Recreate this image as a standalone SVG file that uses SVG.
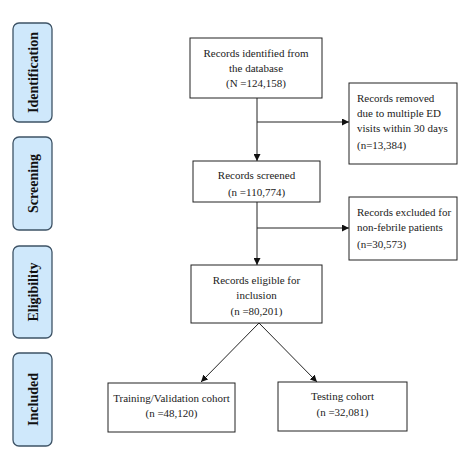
<svg xmlns="http://www.w3.org/2000/svg" width="460" height="452" viewBox="0 0 460 452">
<defs>
<style>
.stage rect{fill:#cfe8fb;stroke:#3e5366;stroke-width:1.3}
.stage text{font-family:"Liberation Serif",serif;font-weight:bold;font-size:14px;fill:#111;text-anchor:middle}
.box{fill:#fff;stroke:#222;stroke-width:1}
.t{font-family:"Liberation Serif",serif;font-size:11px;fill:#222}
.c{text-anchor:middle}
.conn{stroke:#222;stroke-width:1;fill:none}
</style>
<marker id="ah" viewBox="0 0 10 10" refX="10" refY="5" markerWidth="7" markerHeight="7" orient="auto" markerUnits="userSpaceOnUse">
<path d="M0,0 L10,5 L0,10 z" fill="#111"/>
</marker>
</defs>
<rect width="460" height="452" fill="#fff"/>

<g id="stage-identification" class="stage">
<rect x="13" y="23" width="39" height="99" rx="6"/>
<text transform="translate(37.5,72.5) rotate(-90)">Identification</text>
</g>
<g id="stage-screening" class="stage">
<rect x="13" y="137" width="39" height="93" rx="6"/>
<text transform="translate(37.5,183.5) rotate(-90)">Screening</text>
</g>
<g id="stage-eligibility" class="stage">
<rect x="13" y="246" width="39" height="92" rx="6"/>
<text transform="translate(37.5,292) rotate(-90)">Eligibility</text>
</g>
<g id="stage-included" class="stage">
<rect x="13" y="353" width="39" height="93" rx="6"/>
<text transform="translate(37.5,399.5) rotate(-90)">Included</text>
</g>

<g id="connectors">
<line class="conn" x1="257" y1="98" x2="257" y2="161" marker-end="url(#ah)"/>
<line class="conn" x1="257" y1="122" x2="349" y2="122" marker-end="url(#ah)"/>
<line class="conn" x1="257" y1="202" x2="257" y2="265" marker-end="url(#ah)"/>
<line class="conn" x1="257" y1="228" x2="349" y2="228" marker-end="url(#ah)"/>
<line class="conn" x1="259" y1="323" x2="201" y2="382" marker-end="url(#ah)"/>
<line class="conn" x1="259" y1="323" x2="317" y2="382" marker-end="url(#ah)"/>
</g>

<g id="identified">
<rect class="box" x="190" y="38" width="132" height="60"/>
<text class="t c" x="256" y="57">Records identified from</text>
<text class="t c" x="256" y="72">the database</text>
<text class="t c" x="256" y="87">(N =124,158)</text>
</g>
<g id="removed">
<rect class="box" x="349" y="83" width="108" height="81"/>
<text class="t" x="357" y="102">Records removed</text>
<text class="t" x="357" y="117">due to multiple ED</text>
<text class="t" x="357" y="132">visits within 30 days</text>
<text class="t" x="357" y="149">(n=13,384)</text>
</g>
<g id="screened">
<rect class="box" x="193" y="161" width="127" height="41"/>
<text class="t c" x="256.5" y="179">Records screened</text>
<text class="t c" x="256.5" y="196">(n =110,774)</text>
</g>
<g id="excluded">
<rect class="box" x="349" y="197" width="108" height="63"/>
<text class="t" x="357" y="216">Records excluded for</text>
<text class="t" x="357" y="231">non-febrile patients</text>
<text class="t" x="357" y="248">(n=30,573)</text>
</g>
<g id="eligible">
<rect class="box" x="191" y="265" width="131" height="58"/>
<text class="t c" x="256.5" y="284">Records eligible for</text>
<text class="t c" x="256.5" y="299">inclusion</text>
<text class="t c" x="256.5" y="315">(n =80,201)</text>
</g>
<g id="training">
<rect class="box" x="108" y="383" width="127" height="49"/>
<text class="t c" x="171.5" y="402">Training/Validation cohort</text>
<text class="t c" x="171.5" y="417">(n =48,120)</text>
</g>
<g id="testing">
<rect class="box" x="278" y="382" width="129" height="49"/>
<text class="t c" x="342.5" y="400">Testing cohort</text>
<text class="t c" x="342.5" y="416">(n =32,081)</text>
</g>
</svg>
